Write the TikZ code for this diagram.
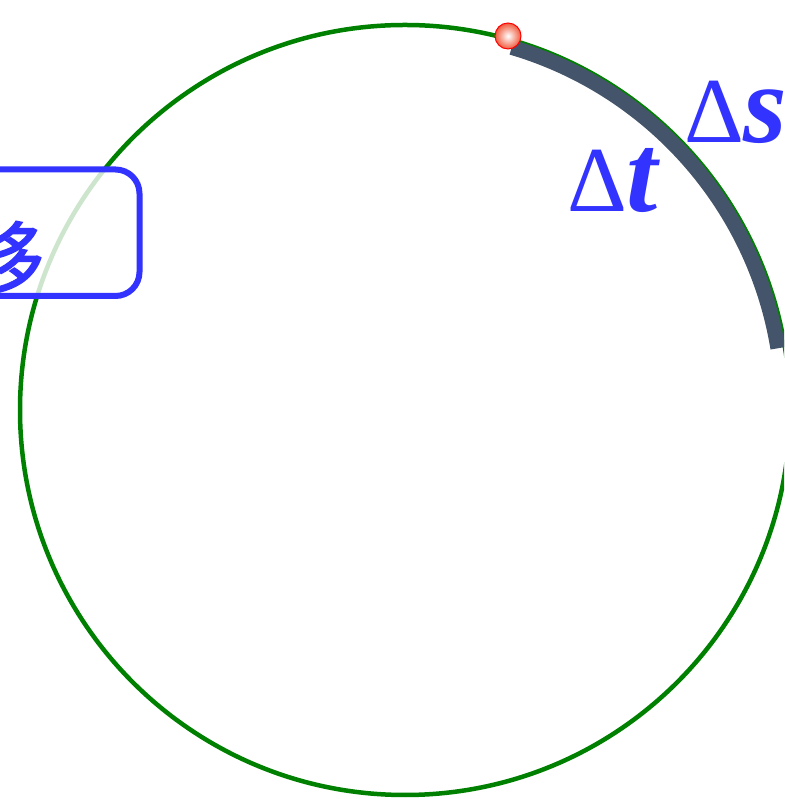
\documentclass[tikz,border=0pt]{standalone}
\usepackage{fontspec}
\setmainfont{Liberation Serif}
\newfontfamily\cjkfont[FakeBold=2]{Noto Sans CJK SC}
\definecolor{cgreen}{HTML}{008000}
\definecolor{cblue}{HTML}{3333FF}
\definecolor{cslate}{HTML}{44546A}
\definecolor{cball}{HTML}{F05A3C}
\begin{document}
\begin{tikzpicture}[x=1pt,y=1pt,
  orbit/.style={draw=cgreen,line width=4.5},
  pathline/.style={draw=cslate,line width=15,line cap=butt},
  labelbox/.style={draw=cblue,line width=6,rounded corners=24,fill=white,fill opacity=0.8,inner sep=0},
  lab/.style={text=cblue,inner sep=0,outer sep=0},
  ballnode/.style={circle,minimum size=26,inner sep=0,inner color=white,outer color=cball,draw=red,line width=1}]
\useasboundingbox (0,0) rectangle (784,799);
\clip (0,0) rectangle (784,799);
\coordinate (O) at (405,389);
\draw[orbit] (O) circle[radius=385];
\node[labelbox,minimum width=339.5,minimum height=126.5] (box) at (-30.25,566.25) {};
\node[lab,anchor=base east] (yi) at (44,513) {\cjkfont\fontsize{77}{77}\selectfont 移};
\coordinate (arcstart) at ([shift={(73.6:378)}]O);
\draw[pathline] (arcstart) arc[start angle=73.6,end angle=9.4,radius=378];
\node[ballnode] (ball) at (508,763) {};
\node[lab,anchor=base west] (dt) at (567,587) {\fontsize{93}{93}\selectfont Δ\fontsize{112}{112}\selectfont\bfseries\itshape t};
\node[lab,anchor=base west] (ds) at (684,656) {\fontsize{93}{93}\selectfont Δ\fontsize{112}{112}\selectfont\bfseries\itshape s};
\end{tikzpicture}
\end{document}
